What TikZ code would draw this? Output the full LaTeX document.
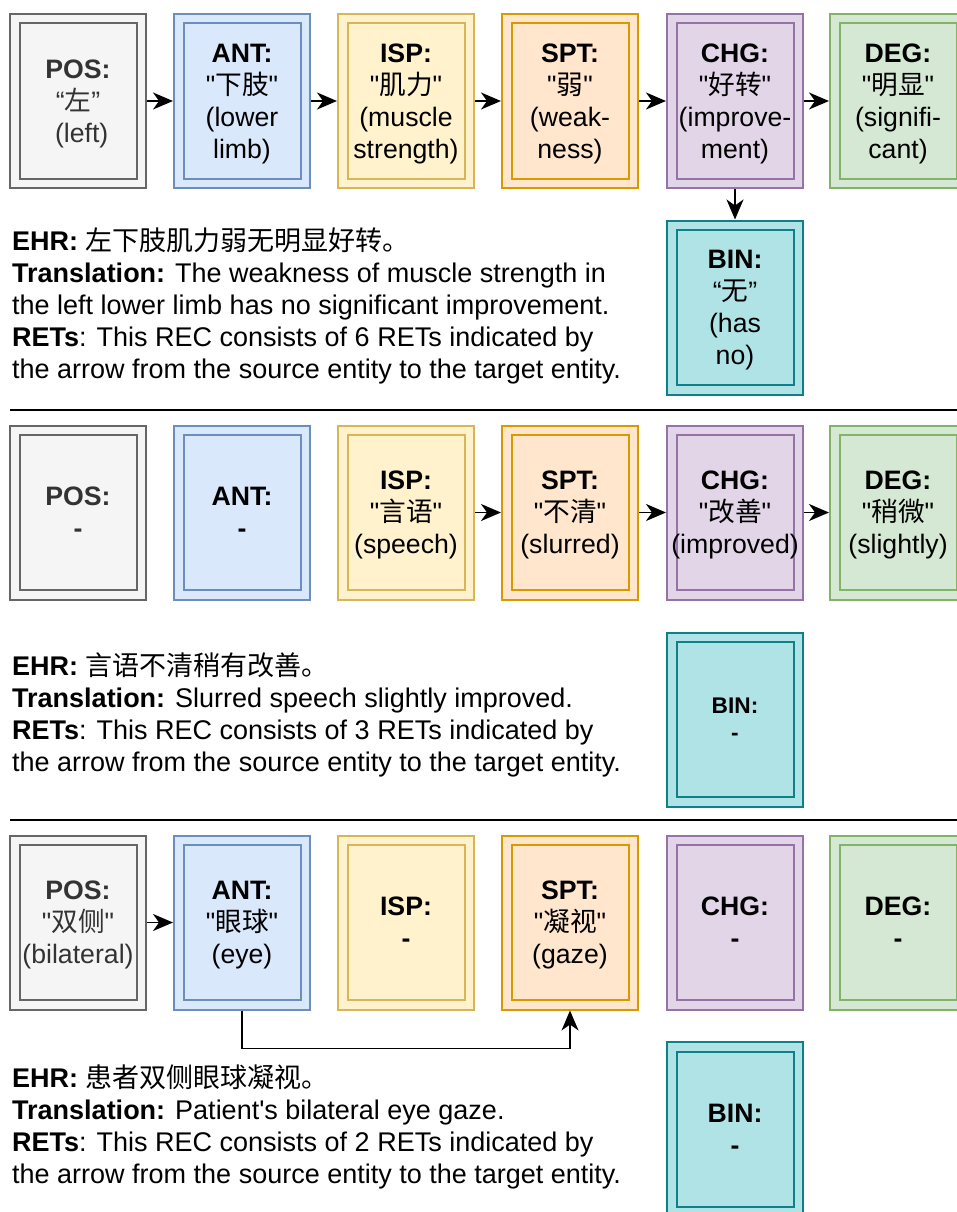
\documentclass[tikz,border=0pt]{standalone}
\usepackage{fontspec}
\newfontfamily\arial{Liberation Sans}
\newfontfamily\cjk{Noto Sans CJK SC}
\usetikzlibrary{arrows.meta}
\newcommand\zh[1]{{\cjk #1}}
\newcommand\li{\rule[-6.8pt]{0pt}{32pt}}
\newcommand\lib{\rule[-5.74pt]{0pt}{27.2pt}}
\newcommand\boxfont{\arial\fontsize{26.67}{32}\selectfont}
\newcommand\descfont{\arial\fontsize{27}{32}\selectfont}
\newcommand\smallboxfont{\arial\fontsize{22.67}{27.2}\selectfont}
\definecolor{gF}{HTML}{F5F5F5}\definecolor{gL}{HTML}{666666}\definecolor{gT}{HTML}{333333}
\definecolor{bF}{HTML}{DAE8FC}\definecolor{bL}{HTML}{6C8EBF}
\definecolor{yF}{HTML}{FFF2CC}\definecolor{yL}{HTML}{D6B656}
\definecolor{oF}{HTML}{FFE6CC}\definecolor{oL}{HTML}{D79B00}
\definecolor{pF}{HTML}{E1D5E7}\definecolor{pL}{HTML}{9673A6}
\definecolor{eF}{HTML}{D5E8D4}\definecolor{eL}{HTML}{82B366}
\definecolor{tF}{HTML}{B0E3E6}\definecolor{tL}{HTML}{0E8088}
\tikzset{
  ent/.style={draw=#1L, fill=#1F, line width=2pt, minimum width=136pt, minimum height=174pt,
    inner sep=0pt, align=center, font=\boxfont,
    path picture={\draw[#1L, line width=2pt]
      ([xshift=9.5pt,yshift=9.5pt]path picture bounding box.south west) rectangle
      ([xshift=-9.5pt,yshift=-9.5pt]path picture bounding box.north east);}},
  arr/.style={-{Stealth[length=20pt,width=17pt,inset=6pt]}, line width=1.5pt},
  desc/.style={anchor=north west, inner sep=0pt, align=left, font=\descfont},
  sep/.style={line width=1.5pt}
}
\begin{document}
\begin{tikzpicture}[x=1pt,y=-1pt]
\useasboundingbox (0,0) rectangle (957,1212);
\clip (0,0) rectangle (957,1212);
% ---------- Row 1 ----------
\node[ent=g, text=gT] (pos1) at (78,101) {\li\textbf{POS:}\\\li“\zh{左}”\\\li\ (left)};
\node[ent=b] (ant1) at (242,101) {\li\textbf{ANT:}\\\li"\zh{下肢}"\\\li(lower\\\li limb)};
\node[ent=y] (isp1) at (406,101) {\li\textbf{ISP:}\\\li"\zh{肌力}"\\\li(muscle\\\li strength)};
\node[ent=o] (spt1) at (570,101) {\li\textbf{SPT:}\\\li"\zh{弱}"\\\li(weak-\\\li ness)};
\node[ent=p] (chg1) at (735,101) {\li\textbf{CHG:}\\\li"\zh{好转}"\\\li(improve-\\\li ment)};
\node[ent=e] (deg1) at (898,101) {\li\textbf{DEG:}\\\li"\zh{明显}"\\\li(signifi-\\\li cant)};
\node[ent=t] (bin1) at (735,307.5) {\li\textbf{BIN:}\\\li“\zh{无}”\\\li(has\\\li no)};
\draw[arr] (pos1) -- (ant1);
\draw[arr] (ant1) -- (isp1);
\draw[arr] (isp1) -- (spt1);
\draw[arr] (spt1) -- (chg1);
\draw[arr] (chg1) -- (deg1);
\draw[arr] (chg1) -- (bin1);
\node[desc] (d1) at (12,225.3) {\li\textbf{EHR:} \zh{左下肢肌力弱无明显好转。}\\
\li\textbf{Translation:} The weakness of muscle strength in\\
\li the left lower limb has no significant improvement.\\
\li\textbf{RETs}: This REC consists of 6 RETs indicated by\\
\li the arrow from the source entity to the target entity.};
\draw[sep] (10,410) -- (957,410);
% ---------- Row 2 ----------
\node[ent=g, text=gT] (pos2) at (78,512.5) {\li\textbf{POS:}\\\li\textbf{-}};
\node[ent=b] (ant2) at (242,512.5) {\li\textbf{ANT:}\\\li\textbf{-}};
\node[ent=y] (isp2) at (406,512.5) {\li\textbf{ISP:}\\\li"\zh{言语}"\\\li(speech)};
\node[ent=o] (spt2) at (570,512.5) {\li\textbf{SPT:}\\\li"\zh{不清}"\\\li(slurred)};
\node[ent=p] (chg2) at (735,512.5) {\li\textbf{CHG:}\\\li"\zh{改善}"\\\li(improved)};
\node[ent=e] (deg2) at (898,512.5) {\li\textbf{DEG:}\\\li"\zh{稍微}"\\\li(slightly)};
\node[ent=t, font=\smallboxfont] (bin2) at (735,719.5) {\lib\textbf{BIN:}\\\lib\textbf{-}};
\draw[arr] (isp2) -- (spt2);
\draw[arr] (spt2) -- (chg2);
\draw[arr] (chg2) -- (deg2);
\node[desc] (d2) at (12,650) {\li\textbf{EHR:} \zh{言语不清稍有改善。}\\
\li\textbf{Translation:} Slurred speech slightly improved.\\
\li\textbf{RETs}: This REC consists of 3 RETs indicated by\\
\li the arrow from the source entity to the target entity.};
\draw[sep] (10,820) -- (957,820);
% ---------- Row 3 ----------
\node[ent=g, text=gT] (pos3) at (78,922.5) {\li\textbf{POS:}\\\li"\zh{双侧}"\\\li(bilateral)};
\node[ent=b] (ant3) at (242,922.5) {\li\textbf{ANT:}\\\li"\zh{眼球}"\\\li(eye)};
\node[ent=y] (isp3) at (406,922.5) {\li\textbf{ISP:}\\\li\textbf{-}};
\node[ent=o] (spt3) at (570,922.5) {\li\textbf{SPT:}\\\li"\zh{凝视}"\\\li(gaze)};
\node[ent=p] (chg3) at (735,922.5) {\li\textbf{CHG:}\\\li\textbf{-}};
\node[ent=e] (deg3) at (898,922.5) {\li\textbf{DEG:}\\\li\textbf{-}};
\node[ent=t] (bin3) at (735,1129) {\li\textbf{BIN:}\\\li\textbf{-}};
\draw[arr] (pos3) -- (ant3);
\draw[arr] (ant3.south) -- ++(0,38) -| (spt3.south);
\node[desc] (d3) at (12,1062.5) {\li\textbf{EHR:} \zh{患者双侧眼球凝视。}\\
\li\textbf{Translation:} Patient's bilateral eye gaze.\\
\li\textbf{RETs}: This REC consists of 2 RETs indicated by\\
\li the arrow from the source entity to the target entity.};
\end{tikzpicture}
\end{document}
